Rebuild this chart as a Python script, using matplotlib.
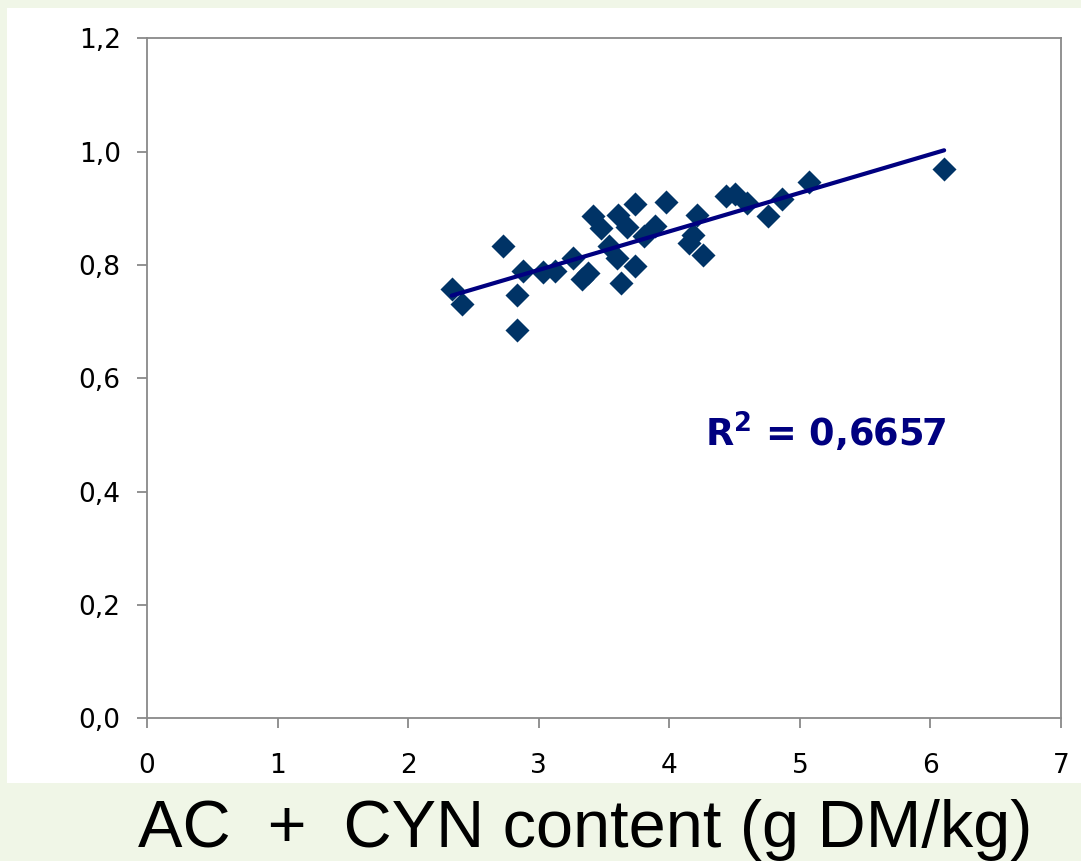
import matplotlib.pyplot as plt
import matplotlib.patches as mpatches
import numpy as np

# content AC + CYN (g DM/kg) vs. the y variable
x_vals = [2.333, 2.409, 2.728, 2.830, 2.830, 2.876, 3.034, 3.124, 3.259, 3.329,
          3.380, 3.418, 3.474, 3.540, 3.602, 3.628, 3.604, 3.678, 3.739, 3.737,
          3.808, 3.890, 3.978, 4.153, 4.183, 4.214, 4.255, 4.433, 4.502, 4.597,
          4.757, 4.860, 5.069, 6.105]
y_vals = [0.757, 0.732, 0.834, 0.747, 0.686, 0.790, 0.787, 0.790, 0.813, 0.775,
          0.785, 0.887, 0.865, 0.833, 0.812, 0.769, 0.888, 0.867, 0.908, 0.799,
          0.852, 0.869, 0.911, 0.838, 0.853, 0.888, 0.817, 0.922, 0.925, 0.909,
          0.886, 0.917, 0.947, 0.969]
x_ticks = [0, 1, 2, 3, 4, 5, 6, 7]
y_ticks = [0.0, 0.2, 0.4, 0.6, 0.8, 1.0, 1.2]
y_tick_labels = ['0,0', '0,2', '0,4', '0,6', '0,8', '1,0', '1,2']
r2_text = 'R$^{\\mathbf{2}}$ = 0,6657'
x_title = 'AC  +  CYN content (g DM/kg)'

plt.rcParams['font.family'] = ['DejaVu Sans']
plt.rcParams['mathtext.fontset'] = 'dejavusans'

fig = plt.figure(figsize=(10.81, 8.61), dpi=100, facecolor='#f0f6e7')
# white chart area (the slide has a pale green background)
fig.patches.append(mpatches.Rectangle((0.0065, 0.0906), 1.0, 0.9, transform=fig.transFigure,
                                      facecolor='white', edgecolor='none', zorder=-5))

ax = fig.add_axes([0.136, 0.1657, 0.8455, 0.7898])
ax.set_facecolor('white')

ax.scatter(x_vals, y_vals, marker='D', s=150, color='#003366', linewidths=0, zorder=3)

# linear trendline
k, b = np.polyfit(x_vals, y_vals, 1)
xl = np.array([min(x_vals), max(x_vals)])
ax.plot(xl, k * xl + b, color='#000080', linewidth=3, zorder=4, solid_capstyle='round')

ax.text(4.27, 0.479, r2_text, color='#000080', fontsize=26.5, fontweight='bold',
        ha='left', va='baseline')

ax.set_xlim(0, 7)
ax.set_ylim(0, 1.2)
ax.set_xticks(x_ticks)
ax.set_yticks(y_ticks)
ax.set_yticklabels(y_tick_labels)
for s in ax.spines.values():
    s.set_color('#898989')
    s.set_linewidth(1.3)
ax.tick_params(axis='both', direction='out', length=7, width=1.3, color='#898989',
               labelsize=19, labelcolor='black')
ax.tick_params(axis='y', pad=12)
ax.tick_params(axis='x', pad=18)

fig.text(0.541, 0.016, x_title, fontsize=48, family=['Liberation Sans', 'DejaVu Sans'],
         ha='center', va='baseline', color='black')

fig.savefig('out.png', dpi=100, facecolor=fig.get_facecolor())
